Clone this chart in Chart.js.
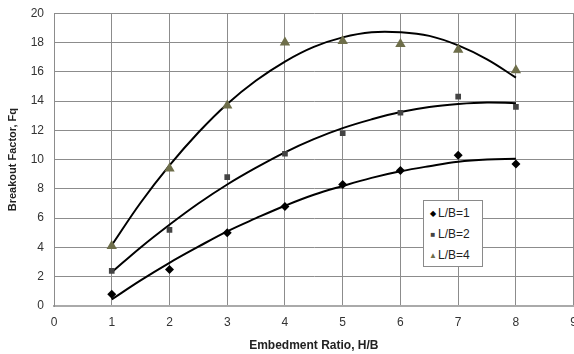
<!DOCTYPE html>
<html>
<head>
<meta charset="utf-8">
<script src="https://cdn.jsdelivr.net/npm/chart.js@4/dist/chart.umd.min.js"></script>
<style>
  html, body { margin:0; padding:0; background:#fff; overflow:hidden; }
  #wrap { position:absolute; left:0; top:-4px; width:588px; height:358px; }
  #legend {
    position:absolute; left:423px; top:200px; width:58px; height:65px;
    border:1px solid #8a8a8a; background:#fff;
    font-family:"Liberation Sans", Arial, sans-serif; font-size:12px; color:#222;
  }
  #legend div { position:absolute; left:4px; white-space:nowrap; }
  #legend span { display:inline-block; width:10px; font-size:8px; text-align:center; vertical-align:1px; }
</style>
</head>
<body>
<div id="wrap"><canvas id="myChart" width="588" height="358"></canvas></div>
<div id="legend">
  <div style="top:5px"><span style="color:#000">&#9670;</span>L/B=1</div>
  <div style="top:26px"><span style="color:#444">&#9632;</span>L/B=2</div>
  <div style="top:47px"><span style="color:#6e6e4a">&#9650;</span>L/B=4</div>
</div>
<script>
// 読み取った値
var ratio=[1,2,3,4,5,6,7,8];
var lb1=[0.8,2.5,5.0,6.8,8.3,9.25,10.3,9.7];
var lb2=[2.4,5.2,8.8,10.4,11.8,13.2,14.3,13.6];
var lb4=[4.1,9.4,13.7,18.0,18.1,17.9,17.5,16.1];
// 近似曲線
var fitX=[1,1.5,2,2.5,3,3.5,4,4.5,5,5.5,6,6.5,7,7.5,8];
var fit1=[0.45,1.75,2.95,4.05,5.1,6.0,6.85,7.6,8.2,8.75,9.2,9.55,9.85,10.0,10.05];
var fit2=[2.3,4.0,5.55,7.0,8.3,9.45,10.5,11.4,12.15,12.75,13.25,13.6,13.8,13.9,13.85];
var fit4=[4.15,7.05,9.6,11.85,13.8,15.4,16.7,17.7,18.35,18.7,18.7,18.45,17.8,16.85,15.6];
var names=['L/B=1','L/B=2','L/B=4'];

function pts(xs,ys){
    var out=[];
    for(var i=0;i<xs.length;i++){
        out.push({x:xs[i],y:ys[i]});
    }
    return out;
}

function trend(ys){
    return {
        type:'line', data:pts(fitX,ys), borderColor:'#000', borderWidth:2,
        pointRadius:0, tension:0.4, fill:false, order:2
    };
}

var grid='#8c8c8c';
var font={family:'"Liberation Sans", Arial, sans-serif', size:12};

var ctx=document.getElementById("myChart");
var myChart=new Chart(ctx,{
    type:'scatter',
    data:{
        datasets:[
            trend(fit1),trend(fit2),trend(fit4),
            {label:names[0],data:pts(ratio,lb1),pointStyle:'rectRot',pointRadius:4.5,
             backgroundColor:'#000',borderColor:'#000',borderWidth:0,order:1},
            {label:names[1],data:pts(ratio,lb2),pointStyle:'rect',pointRadius:4,
             backgroundColor:'#444',borderColor:'#444',borderWidth:0,order:1},
            {label:names[2],data:pts(ratio,lb4),pointStyle:'triangle',pointRadius:6,
             backgroundColor:'#6e6e4a',borderColor:'#6e6e4a',borderWidth:0,order:1}
        ]
    },
    options:{
        responsive:false,
        animation:false,
        layout:{padding:{top:6,left:0,right:0,bottom:0}},
        plugins:{legend:{display:false},tooltip:{enabled:false}},
        scales:{
            x:{
                type:'linear',min:0,max:9,
                ticks:{stepSize:1,color:'#333',font:{family:font.family,size:12,lineHeight:1},padding:11},
                grid:{color:grid,lineWidth:1,drawTicks:false},
                border:{color:'#aaa',width:2},
                title:{display:true,text:'Embedment Ratio, H/B',color:'#222',
                       font:{family:font.family,size:12,weight:'bold',lineHeight:1},padding:{top:0,bottom:2}}
            },
            y:{
                min:0,max:20,
                ticks:{stepSize:2,color:'#333',font:font,padding:10},
                grid:{color:grid,lineWidth:1,drawTicks:false},
                border:{color:grid,width:1},
                title:{display:true,text:'Breakout Factor, Fq',color:'#222',
                       font:{family:font.family,size:11,weight:'bold'},padding:{top:6,bottom:0}},
                afterFit:function(s){s.width=54;}
            }
        }
    }
});
</script>
</body>
</html>
